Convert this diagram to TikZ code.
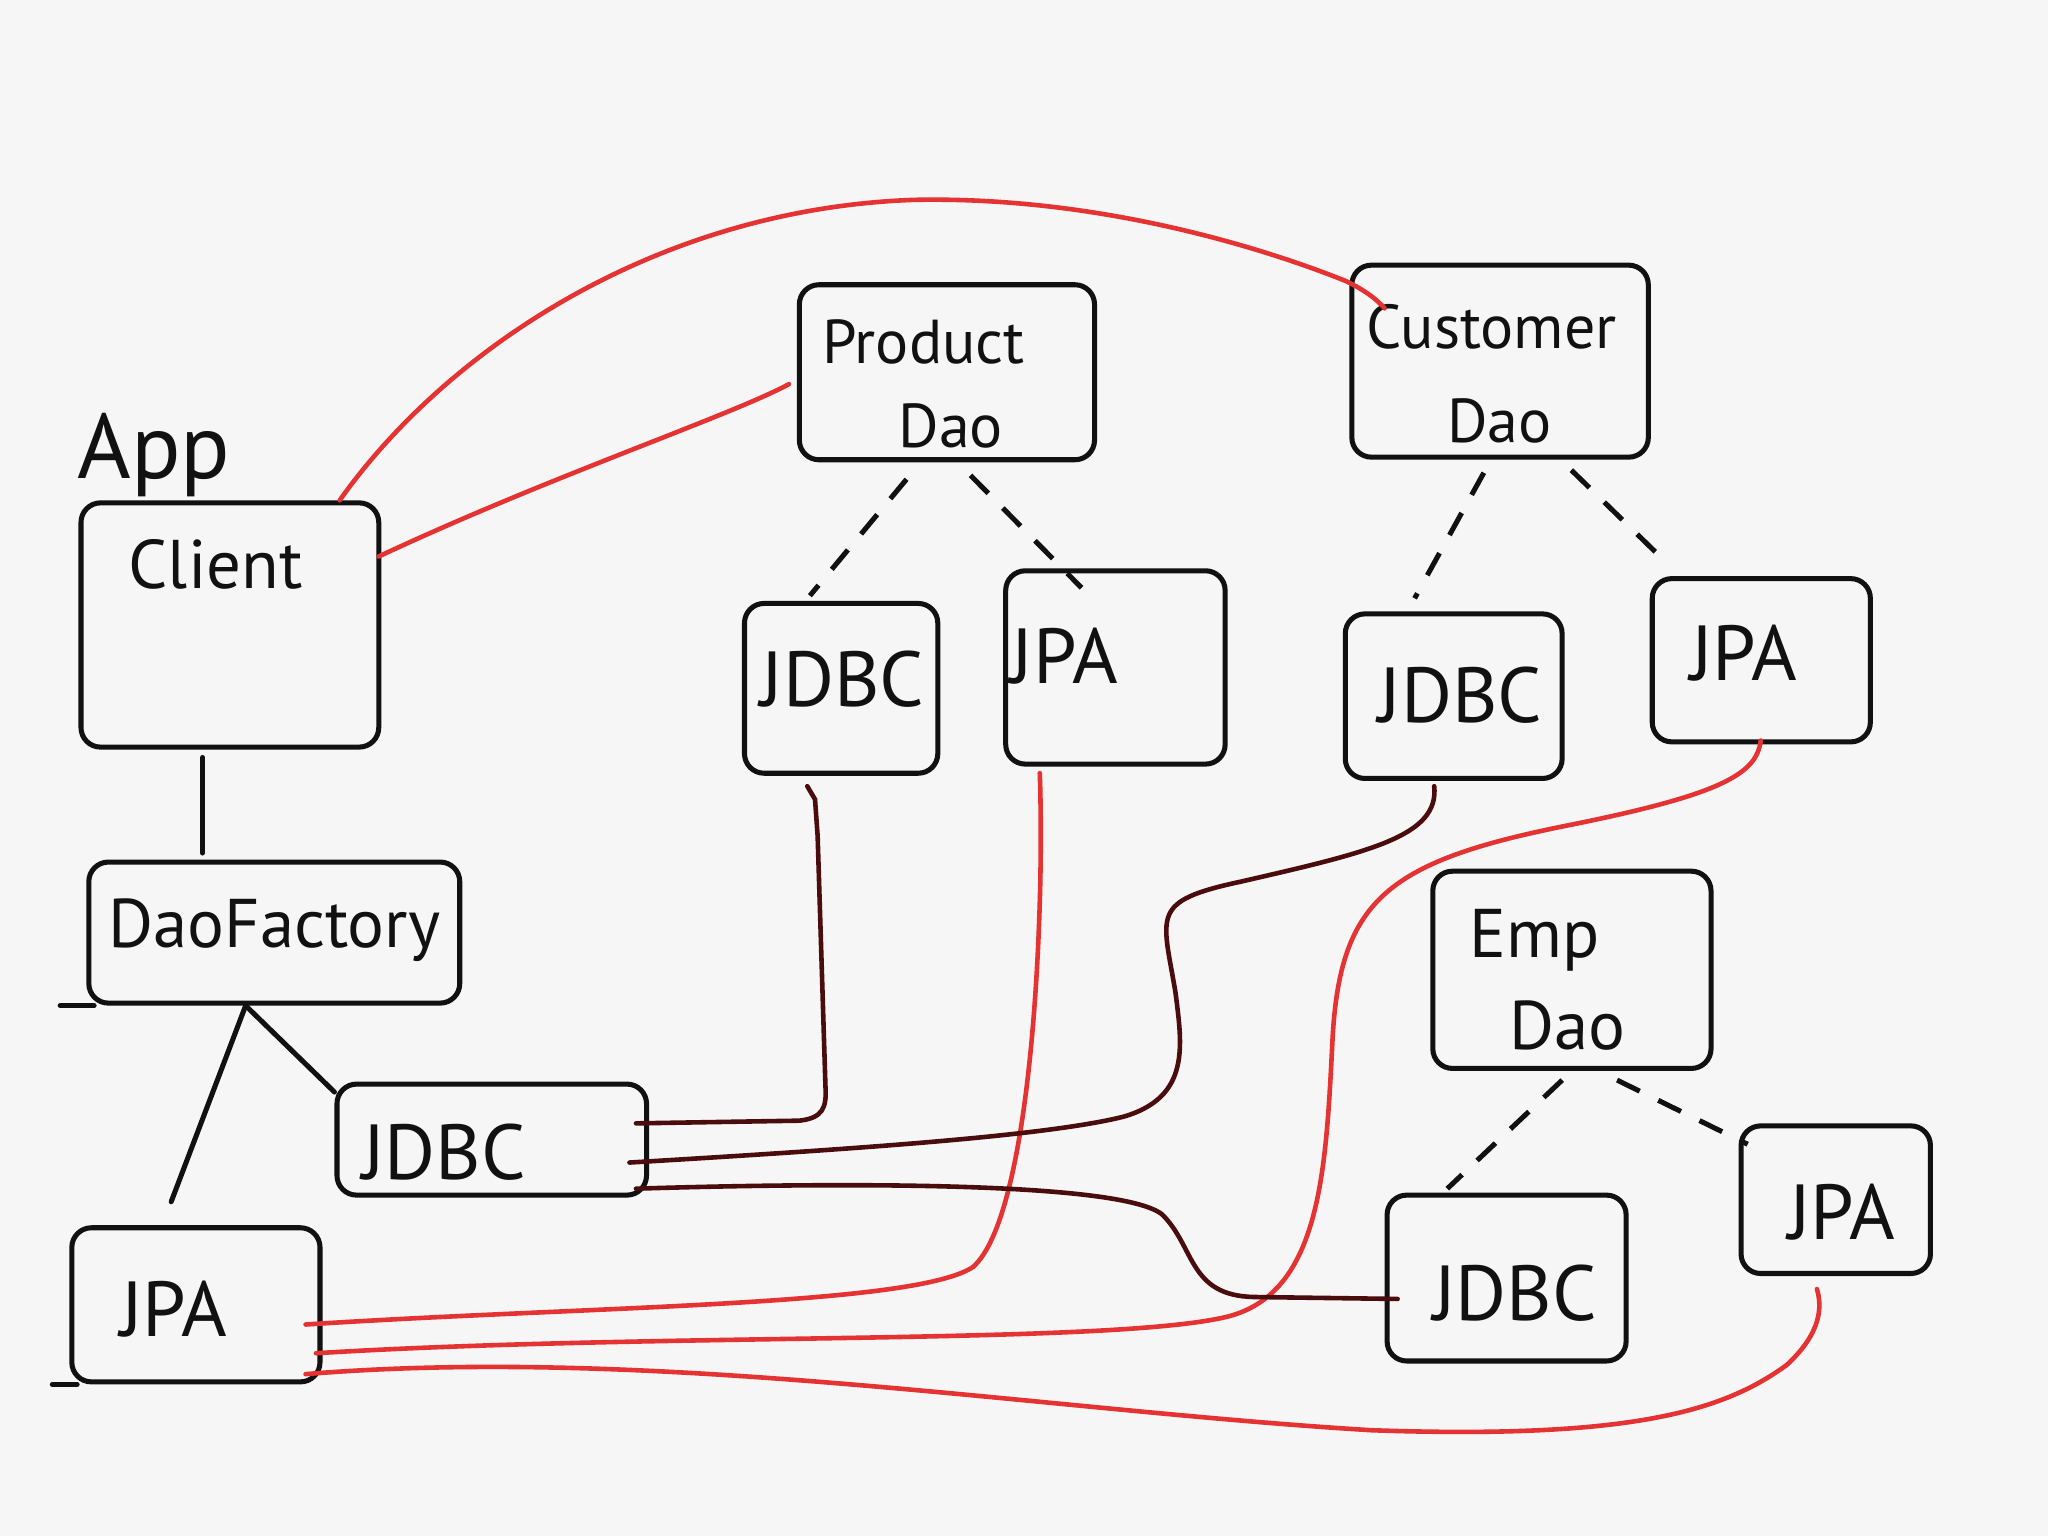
\documentclass[tikz,border=0pt]{standalone}
\usepackage{fontspec}
\setmainfont{PT Sans}
\usetikzlibrary{calc,fit}
\definecolor{paper}{HTML}{F6F6F6}
\definecolor{ink}{HTML}{111111}
\definecolor{wire}{HTML}{E53232}
\definecolor{darkwire}{HTML}{4A0C0C}
\tikzset{
  box/.style={draw=ink, line width=1.1pt, rounded corners=1.5mm, inner sep=0pt},
  lbl/.style={text=ink, font=\fontsize{17}{20}\selectfont, inner sep=0pt},
  daolbl/.style={text=ink, font=\fontsize{13.5}{16}\selectfont, inner sep=0pt},
  midlbl/.style={text=ink, font=\fontsize{15}{18}\selectfont, inner sep=0pt},
  biglbl/.style={text=ink, font=\fontsize{20}{24}\selectfont, inner sep=0pt},
  link/.style={draw=ink, line width=1.1pt, line cap=round},
  dashlink/.style={draw=ink, line width=1.1pt, dash pattern=on 5.5pt off 4.5pt},
  redwire/.style={draw=wire, line width=1pt, line cap=round},
  darkwirestyle/.style={draw=darkwire, line width=1pt, line cap=round},
}
\begin{document}
\begin{tikzpicture}[x=0.1mm, y=-0.1mm]
  % paper
  \fill[paper] (0,0) rectangle (1568,1176);
  \useasboundingbox (0,0) rectangle (1568,1176);

  % application side
  \node[biglbl] (apptxt) at (118,348) {App};
  \node[box, fit={(62,385) (290,572)}] (client) {};
  \node[midlbl] (clienttxt) at (165,432) {Client};

  \node[box, fit={(68,660) (352,768)}] (factory) {};
  \node[midlbl] (factorytxt) at (210,712) {DaoFactory};

  \node[box, fit={(258,830) (495,915)}] (fjdbc) {};
  \node[lbl] (fjdbctxt) at (340,882) {JDBC};

  \node[box, fit={(55,940) (245,1058)}] (fjpa) {};
  \node[lbl] (fjpatxt) at (133,1002) {JPA};

  % small stray strokes at box corners
  \draw[link] ($(factory.south west)+(6,0)$) -- ++(-26,0);
  \draw[link] ($(fjpa.south west)+(6,0)$) -- ++(-19,0);

  % DAO families
  \node[box, fit={(612,218) (838,352)}] (pdao) {};
  \node[daolbl] (pdaotxta) at (707,262) {Product};
  \node[daolbl] (pdaotxtb) at (728,326) {Dao};
  \node[box, fit={(570,462) (718,592)}] (pjdbc) {};
  \node[lbl] (pjdbctxt) at (645,520) {JDBC};
  \node[box, fit={(770,437) (938,585)}] (pjpa) {};
  \node[lbl] (pjpatxt) at (815,502) {JPA};

  \node[box, fit={(1035,203) (1262,350)}] (cdao) {};
  \node[daolbl] (cdaotxta) at (1142,250) {Customer};
  \node[daolbl] (cdaotxtb) at (1148,322) {Dao};
  \node[box, fit={(1030,470) (1196,596)}] (cjdbc) {};
  \node[lbl] (cjdbctxt) at (1118,532) {JDBC};
  \node[box, fit={(1265,443) (1432,568)}] (cjpa) {};
  \node[lbl] (cjpatxt) at (1335,500) {JPA};

  \node[box, fit={(1097,667) (1310,818)}] (edao) {};
  \node[midlbl] (edaotxta) at (1175,720) {Emp};
  \node[midlbl] (edaotxtb) at (1200,785) {Dao};
  \node[box, fit={(1062,915) (1245,1042)}] (ejdbc) {};
  \node[lbl] (ejdbctxt) at (1160,990) {JDBC};
  \node[box, fit={(1333,862) (1478,975)}] (ejpa) {};
  \node[lbl] (ejpatxt) at (1410,928) {JPA};

  % factory structure
  \draw[link] ($(client.south west)+(95,6)$) -- ($(factory.north west)+(89,-5)$);
  \draw[link] ($(factory.south west)+(122,0)$) -- ($(fjdbc.north west)+(0,8)$);
  \draw[link] ($(factory.south west)+(122,0)$) -- ($(fjpa.north west)+(78,-18)$);

  % implementations of each DAO
  \draw[dashlink] ($(pdao.south west)+(84,13)$) -- ($(pjdbc.north west)+(52,-4)$);
  \draw[dashlink] ($(pdao.south west)+(133,10)$) -- ($(pjpa.north west)+(60,15)$);
  \draw[dashlink] ($(cdao.south west)+(103,10)$) -- ($(cjdbc.north west)+(55,-10)$);
  \draw[dashlink] ($(cdao.south west)+(170,8)$) -- ($(cjpa.north west)+(10,-13)$);
  \draw[dashlink] ($(edao.south west)+(101,7)$) -- ($(ejdbc.north west)+(48,-3)$);
  \draw[dashlink] ($(edao.south west)+(143,7)$) -- ($(ejpa.north west)+(7,16)$);

  % client uses the DAOs
  \draw[redwire] ($(client.north west)+(200,0)$)
      .. controls (340,270) and (500,160) .. (700,153)
      .. controls (850,150) and (980,195) .. (1030,215)
      .. controls (1045,222) and (1055,230) .. ($(cdao.north west)+(27,35)$);
  \draw[redwire] ($(client.north east)+(-2,43)$)
      .. controls (420,365) and (560,318) .. ($(pdao.north west)+(-6,78)$);

  % JPA factory wiring
  \draw[redwire] ($(fjpa.north east)+(-13,76)$)
      .. controls (450,1000) and (700,1000) .. (745,970)
      .. controls (790,930) and (800,700) .. ($(pjpa.south west)+(28,5)$);
  \draw[redwire] ($(fjpa.north east)+(-5,98)$)
      .. controls (500,1020) and (850,1030) .. (940,1008)
      .. controls (1010,990) and (1015,900) .. (1020,800)
      .. controls (1025,690) and (1060,660) .. (1200,632)
      .. controls (1320,608) and (1345,592) .. ($(cjpa.south west)+(85,-3)$);
  \draw[redwire] ($(fjpa.north east)+(-13,114)$)
      .. controls (500,1030) and (800,1080) .. (1050,1095)
      .. controls (1250,1102) and (1320,1080) .. (1368,1045)
      .. controls (1395,1020) and (1395,1000) .. ($(ejpa.south west)+(60,10)$);

  % JDBC factory wiring
  \draw[darkwirestyle] ($(fjdbc.north east)+(-10,32)$)
      -- (612,858) .. controls (630,856) and (633,848) .. (632,832)
      -- (626,640) -- (624,612) -- ($(pjdbc.south west)+(50,8)$);
  \draw[darkwirestyle] ($(fjdbc.north east)+(-15,62)$)
      .. controls (650,880) and (800,870) .. (860,855)
      .. controls (912,840) and (905,800) .. (900,760)
      .. controls (890,700) and (880,690) .. (950,675)
      .. controls (1050,652) and (1102,640) .. ($(cjdbc.south west)+(70,4)$);
  \draw[darkwirestyle] ($(fjdbc.north east)+(-10,82)$)
      .. controls (650,905) and (860,905) .. (890,930)
      .. controls (915,955) and (910,992) .. (960,993)
      -- ($(ejdbc.west)+(10,16)$);
\end{tikzpicture}
\end{document}
